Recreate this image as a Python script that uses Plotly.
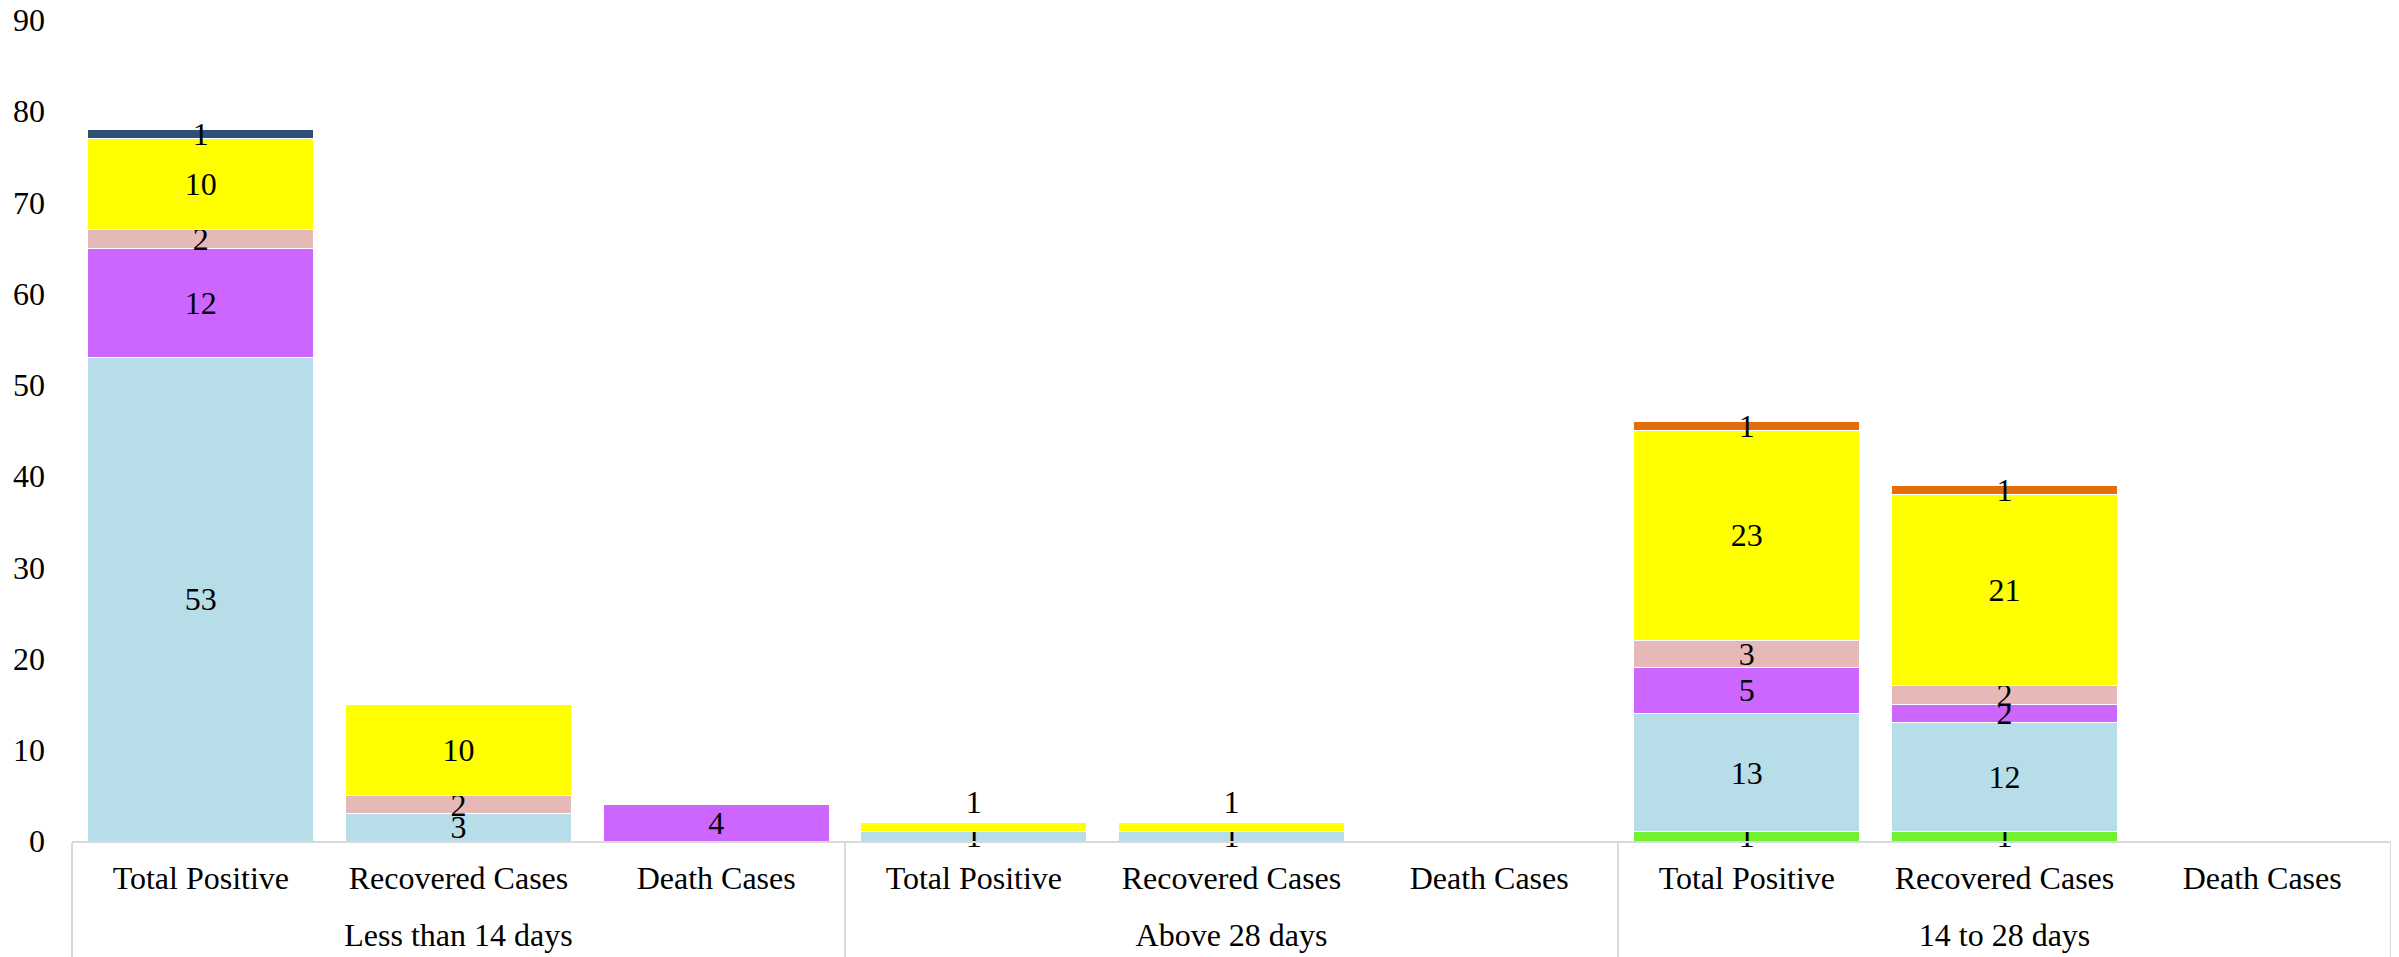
import plotly.graph_objects as go

group_names = ["Less than 14 days", "Above 28 days", "14 to 28 days"]
subcat_names = ["Total Positive", "Recovered Cases", "Death Cases"]
groups = [g for g in group_names for _ in subcat_names]
subcats = subcat_names * len(group_names)

# stacked series, bottom to top (None = no segment)
s_green  = [None, None, None, None, None, None, 1, 1, None]
s_blue   = [53, 3, None, 1, 1, None, 13, 12, None]
s_purple = [12, None, 4, None, None, None, 5, 2, None]
s_pink   = [2, 2, None, None, None, None, 3, 2, None]
s_yellow = [10, 10, None, 1, 1, None, 23, 21, None]
s_orange = [None, None, None, None, None, None, 1, 1, None]
s_navy   = [1, None, None, None, None, None, None, None, None]

series = [
    ("Series 1", s_green, "#72f032"),
    ("Series 2", s_blue, "#b7dde8"),
    ("Series 3", s_purple, "#cc66ff"),
    ("Series 4", s_pink, "#e6b8b7"),
    ("Series 5", s_yellow, "#ffff00"),
    ("Series 6", s_orange, "#e46c0a"),
    ("Series 7", s_navy, "#2e5077"),
]

n = len(subcats)
xpos = list(range(n))
nsub = len(subcat_names)
group_centers = [i * nsub + (nsub - 1) / 2 for i in range(len(group_names))]
boundaries = [i * nsub - 0.5 for i in range(len(group_names) + 1)]

FONT = "Liberation Serif"
FS = 32
fig = go.Figure()
for name, vals, color in series:
    tp = ["inside"] * len(vals)
    if name == "Series 5":
        tp[3] = "outside"
        tp[4] = "outside"
    fig.add_trace(go.Bar(
        x=xpos, y=vals, name=name,
        customdata=groups,
        marker=dict(color=color, line=dict(color="white", width=1)),
        text=[("" if v is None else str(v)) for v in vals],
        textposition=tp, insidetextanchor="middle", textangle=0,
        constraintext="none", cliponaxis=False,
        textfont=dict(family=FONT, size=FS, color="black"),
        showlegend=False,
    ))
# invisible helper trace to activate the group-label axis
fig.add_trace(go.Scatter(x=group_centers, y=[None] * len(group_centers),
                         xaxis="x2", showlegend=False, hoverinfo="skip"))

fig.update_layout(
    barmode="stack", bargap=0.123,
    width=2399, height=957,
    margin=dict(l=64, r=16, t=12, b=124, autoexpand=False),
    plot_bgcolor="white", paper_bgcolor="white",
    font=dict(family=FONT, size=FS, color="black"),
    xaxis=dict(
        range=[-0.5, n - 0.5], tickmode="array", tickvals=xpos, ticktext=subcats,
        showline=True, linecolor="#d9d9d9", linewidth=2, showgrid=False,
        zeroline=False, ticks="", ticklabelstandoff=8, automargin=False,
        ticklabeloverflow="allow",
        tickfont=dict(family=FONT, size=FS, color="black"),
        minor=dict(tickmode="array", tickvals=boundaries, ticks="outside",
                   ticklen=124, tickwidth=2, tickcolor="#d9d9d9", showgrid=False),
    ),
    xaxis2=dict(
        overlaying="x", side="bottom", anchor="y",
        range=[-0.5, n - 0.5], tickmode="array", tickvals=group_centers,
        ticktext=group_names, showline=False, showgrid=False, zeroline=False,
        ticks="", ticklabelstandoff=72, automargin=False,
        ticklabeloverflow="allow",
        tickfont=dict(family=FONT, size=FS, color="black"),
    ),
    yaxis=dict(
        range=[0, 90], dtick=10, showgrid=False, zeroline=False, showline=False,
        automargin=False, ticks="", ticklabelstandoff=26,
        ticklabeloverflow="allow",
        tickfont=dict(family=FONT, size=FS, color="black"),
    ),
)
fig.write_html("out.html")
